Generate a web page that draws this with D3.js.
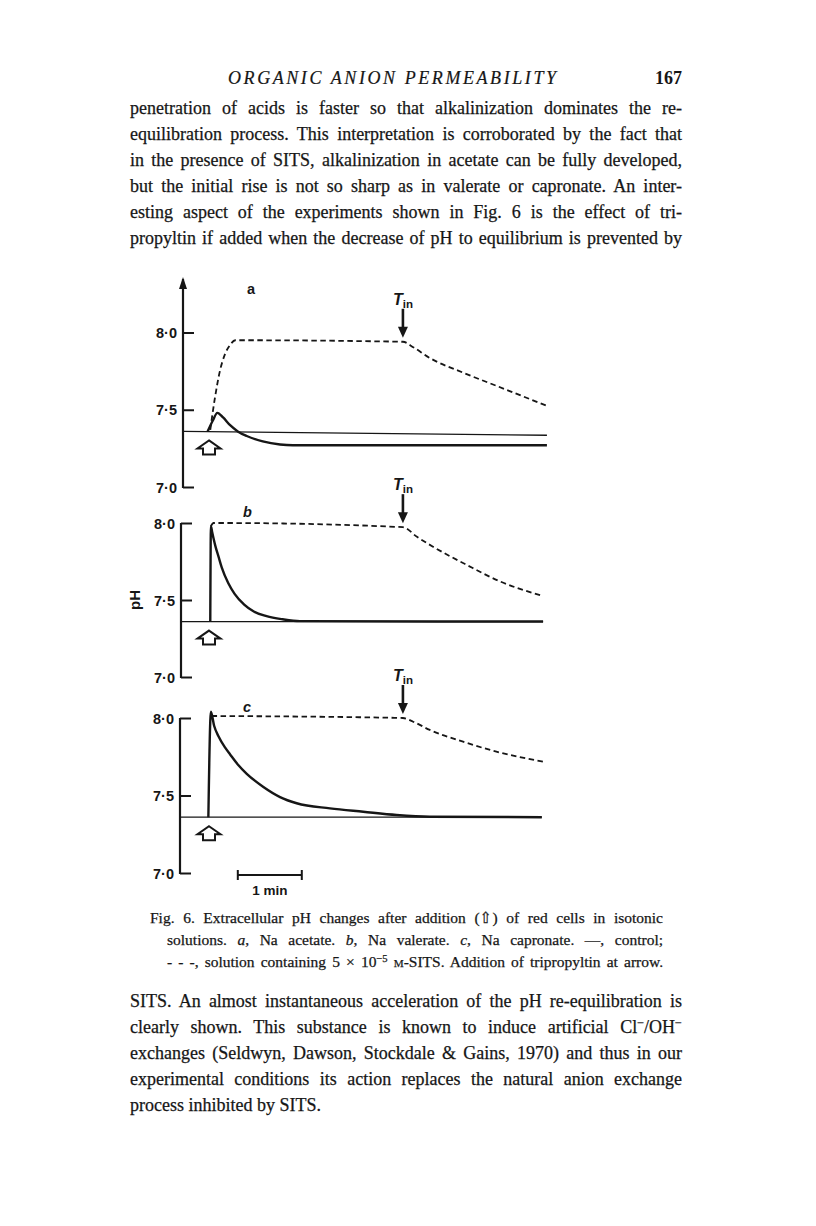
<!DOCTYPE html>
<html>
<head>
<meta charset="utf-8">
<script src="https://cdn.jsdelivr.net/npm/d3@7/dist/d3.min.js"></script>
<style>
  body { margin: 0; background: #fff; }
  text { fill: #161616; }
  .para { font-family: "Liberation Serif", "DejaVu Serif", serif; font-size: 18px; }
  .para text, .caption text { stroke: #161616; stroke-width: 0.25; }
  .caption { font-family: "Liberation Serif", "DejaVu Serif", serif; font-size: 15.5px; }
  .fig text { font-family: "Liberation Sans", Arial, sans-serif; font-weight: bold; }
  .tick text { font-size: 14.5px; }
  .thin { fill: none; stroke: #161616; stroke-width: 1.3; }
  .control { fill: none; stroke: #161616; stroke-width: 2.4; }
  .sits { fill: none; stroke: #161616; stroke-width: 1.8; stroke-dasharray: 5.5 3.5; }
</style>
</head>
<body>
<div id="chart"></div>
<script>
var width = 816, height = 1226;

// ---- data: time in min after adding the cells, pH ----
var tickValues = [7.0, 7.5, 8.0];
var tinTime = 3.03;
var scaleBar = [0.45, 1.45];   // 1 min

var baseA = [[-0.41, 7.36], [5.28, 7.335]];
var controlA = [[-0.02, 7.36], [0.06, 7.43], [0.13, 7.48], [0.22, 7.45], [0.33, 7.40], [0.45, 7.36],
  [0.59, 7.33], [0.84, 7.295], [1.11, 7.275], [1.31, 7.27], [5.28, 7.27]];
var sitsA = [[0.02, 7.37], [0.09, 7.57], [0.17, 7.75], [0.25, 7.86], [0.33, 7.92], [0.41, 7.95],
  [3.03, 7.94], [3.19, 7.905], [3.45, 7.835], [3.97, 7.74], [4.49, 7.655], [5.28, 7.525]];

var baseB = [[-0.44, 7.36], [5.22, 7.36]];
var controlB = [[0.02, 7.36], [0.03, 7.98], [0.05, 7.94], [0.1, 7.85], [0.15, 7.78], [0.2, 7.71],
  [0.3, 7.61], [0.4, 7.54], [0.55, 7.47], [0.7, 7.425], [0.9, 7.395], [1.15, 7.375], [1.42, 7.363], [5.22, 7.36]];
var sitsB = [[0.03, 7.98], [0.07, 8.0], [0.2, 8.0], [3.03, 7.973], [3.25, 7.91], [3.5, 7.846],
  [4.03, 7.727], [4.55, 7.62], [5.22, 7.526]];

var baseC = [[-0.45, 7.36], [5.2, 7.36]];
var controlC = [[-0.01, 7.36], [0.03, 8.04], [0.08, 7.95], [0.15, 7.88], [0.25, 7.81], [0.33, 7.765],
  [0.45, 7.70], [0.59, 7.64], [0.85, 7.555], [1.11, 7.49], [1.37, 7.45], [1.89, 7.417], [2.41, 7.395],
  [2.93, 7.374], [3.45, 7.363], [5.2, 7.36]];
var sitsC = [[0.04, 8.013], [3.03, 8.0], [3.19, 7.976], [3.45, 7.923], [3.97, 7.847], [4.49, 7.783],
  [5.22, 7.718]];

var topLines = [
  "penetration of acids is faster so that alkalinization dominates the re-",
  "equilibration process. This interpretation is corroborated by the fact that",
  "in the presence of SITS, alkalinization in acetate can be fully developed,",
  "but the initial rise is not so sharp as in valerate or capronate. An inter-",
  "esting aspect of the experiments shown in Fig. 6 is the effect of tri-",
  "propyltin if added when the decrease of pH to equilibrium is prevented by"
];
var captionLines = [
  "Fig. 6. Extracellular pH changes after addition (\u21e7) of red cells in isotonic",
  "solutions. *a*, Na acetate. *b*, Na valerate. *c*, Na capronate. \u2014, control;",
  "- - -, solution containing 5 \u00d7 10^\u22125^ ~M~-SITS. Addition of tripropyltin at arrow."
];
var bottomLines = [
  "SITS. An almost instantaneous acceleration of the pH re-equilibration is",
  "clearly shown. This substance is known to induce artificial Cl^\u2212^/OH^\u2212^",
  "exchanges (Seldwyn, Dawson, Stockdale & Gains, 1970) and thus in our",
  "experimental conditions its action replaces the natural anion exchange",
  "process inhibited by SITS."
];

// ---- layout ----
var panels = [
  {letter: "a", data: [baseA, controlA, sitsA], y7: 487, y8: 332.5, axisX: 183, arrowTop: true, letterXY: [247, 294]},
  {letter: "b", data: [baseB, controlB, sitsB], y7: 677, y8: 523, axisX: 181, arrowTop: false, letterXY: [243, 517]},
  {letter: "c", data: [baseC, controlC, sitsC], y7: 873, y8: 718, axisX: 180, arrowTop: false, letterXY: [243, 712]}
];

var x = d3.scaleLinear().domain([0, 1]).range([209, 273]);

var svg = d3.select("#chart").append("svg")
  .attr("width", width)
  .attr("height", height);

svg.append("rect").attr("width", width).attr("height", height).attr("fill", "#fff");

// ---- running text ----
function writeLine(g, str, px, py, w, justify, supShift) {
  var t = g.append("text").attr("x", px).attr("y", py);
  var parts = str.split(/(\*[^*]+\*|\^[^\^]+\^|~[^~]+~)/).filter(function(s) { return s.length; });
  var shift = 0;
  parts.forEach(function(p) {
    var ts = t.append("tspan");
    var c = p[0];
    if ((c == "*" || c == "^" || c == "~") && p.length > 2 && p[p.length - 1] == c) {
      var inner = p.slice(1, -1);
      ts.text(inner);
      if (c == "*") ts.style("font-style", "italic");
      if (c == "~") ts.style("font-size", "0.72em");
      if (c == "^") {
        ts.style("font-size", "0.68em").attr("dy", -supShift - shift);
        shift = -supShift;
        return;
      }
    } else {
      ts.text(p);
    }
    if (shift != 0) { ts.attr("dy", -shift); shift = 0; }
  });
  if (justify) {
    var natural = t.node().getComputedTextLength();
    var spaces = str.replace(/[*^~]/g, "").split(" ").length - 1;
    if (natural < w) {
      t.attr("word-spacing", (w - natural) / spaces);
    } else {
      // slightly too long: squeeze the glyphs a touch
      t.attr("textLength", w).attr("lengthAdjust", "spacingAndGlyphs");
    }
  }
  return t;
}

var head = svg.append("g");
head.append("text")
  .attr("x", 228).attr("y", 84)
  .attr("textLength", 328).attr("lengthAdjust", "spacing")
  .style("font-family", "'Liberation Serif', serif")
  .style("font-style", "italic")
  .style("font-size", "18px")
  .style("stroke", "#161616").style("stroke-width", 0.2)
  .text("ORGANIC ANION PERMEABILITY");
head.append("text")
  .attr("x", 682).attr("y", 84)
  .attr("text-anchor", "end")
  .style("font-family", "'Liberation Serif', serif")
  .style("font-weight", "bold")
  .style("font-size", "18px")
  .text("167");

var para1 = svg.append("g").attr("class", "para");
topLines.forEach(function(l, i) {
  writeLine(para1, l, 130, 114 + i * 26, 552, true, 6);
});

var cap = svg.append("g").attr("class", "caption");
captionLines.forEach(function(l, i) {
  var left = i == 0 ? 150 : 167;
  writeLine(cap, l, left, 923 + i * 22, 663 - left, true, 5);
});

var para2 = svg.append("g").attr("class", "para");
bottomLines.forEach(function(l, i) {
  writeLine(para2, l, 130, 1007 + i * 26, 552, i < bottomLines.length - 1, 6);
});

// ---- figure ----
var fig = svg.append("g").attr("class", "fig");

var fmt = function(d) { return d3.format(".1f")(d).replace(".", "\u00b7"); };

panels.forEach(function(p, pi) {
  var y = d3.scaleLinear().domain([7, 8]).range([p.y7, p.y8]);
  var g = fig.append("g");

  var line = d3.line()
    .x(function(d) { return x(d[0]); })
    .y(function(d) { return y(d[1]); })
    .curve(d3.curveMonotoneX);

  // y axis, ticks pointing inwards
  var ax = g.append("g")
    .attr("transform", "translate(" + p.axisX + ",0)")
    .call(d3.axisLeft(y).tickValues(tickValues).tickSize(-11).tickPadding(6).tickFormat(fmt));
  ax.select(".domain").remove();
  ax.selectAll(".tick line").attr("stroke", "#161616").attr("stroke-width", 2);
  ax.selectAll(".tick text").attr("fill", "#161616").attr("dy", "0.36em");

  var topY = p.arrowTop ? 279 : y(8);
  g.append("line")
    .attr("x1", p.axisX).attr("x2", p.axisX)
    .attr("y1", topY).attr("y2", y(7) + 1)
    .attr("stroke", "#161616").attr("stroke-width", 2.2);
  if (p.arrowTop) {
    g.append("path")
      .attr("d", "M" + p.axisX + "," + (topY - 2) + " l-4,12 l8,0 z")
      .attr("fill", "#161616");
  }

  g.append("path").datum(p.data[0]).attr("class", "thin").attr("d", line);
  g.append("path").datum(p.data[1]).attr("class", "control").attr("d", line);
  g.append("path").datum(p.data[2]).attr("class", "sits").attr("d", line);

  // addition of cells (open arrow)
  var ox = x(0), oy = y(7.36) + 9;
  g.append("path")
    .attr("d", "M" + ox + "," + oy + " l11.5,8 l-5.5,0 l0,6 l-12,0 l0,-6 l-5.5,0 z")
    .attr("fill", "#fff").attr("stroke", "#161616").attr("stroke-width", 2)
    .attr("stroke-linejoin", "miter");

  // tripropyltin arrow
  var sitsAtTin = p.data[2].filter(function(d) { return d[0] == tinTime; })[0][1];
  var tx = x(tinTime), tip = y(sitsAtTin) - 4;
  g.append("line")
    .attr("x1", tx).attr("x2", tx).attr("y1", tip - 29).attr("y2", tip - 8)
    .attr("stroke", "#161616").attr("stroke-width", 2.6);
  g.append("path")
    .attr("d", "M" + tx + "," + tip + " l-5,-11 l10,0 z")
    .attr("fill", "#161616");
  var tl = g.append("text")
    .attr("x", tx).attr("y", tip - 33)
    .attr("text-anchor", "middle");
  tl.append("tspan").style("font-style", "italic").style("font-size", "16px").text("T");
  tl.append("tspan").style("font-size", "11.5px").attr("dy", 3).text("in");

  g.append("text")
    .attr("x", p.letterXY[0]).attr("y", p.letterXY[1])
    .style("font-style", pi == 0 ? "normal" : "italic").style("font-size", "14.5px")
    .text(p.letter);

  if (pi == 1) {
    g.append("text")
      .attr("transform", "translate(140," + y(7.5) + ") rotate(-90)")
      .attr("text-anchor", "middle")
      .style("font-size", "15px")
      .text("pH");
  }

  if (pi == 2) {
    var sy = y(7) + 2;
    var bar = g.append("g").attr("stroke", "#161616").attr("stroke-width", 2);
    bar.append("line").attr("x1", x(scaleBar[0])).attr("x2", x(scaleBar[1])).attr("y1", sy).attr("y2", sy);
    bar.append("line").attr("x1", x(scaleBar[0])).attr("x2", x(scaleBar[0])).attr("y1", sy - 5).attr("y2", sy + 5);
    bar.append("line").attr("x1", x(scaleBar[1])).attr("x2", x(scaleBar[1])).attr("y1", sy - 5).attr("y2", sy + 5);
    g.append("text")
      .attr("x", x((scaleBar[0] + scaleBar[1]) / 2)).attr("y", sy + 20)
      .attr("text-anchor", "middle")
      .style("font-size", "13.5px")
      .text("1 min");
  }
});
</script>
</body>
</html>
